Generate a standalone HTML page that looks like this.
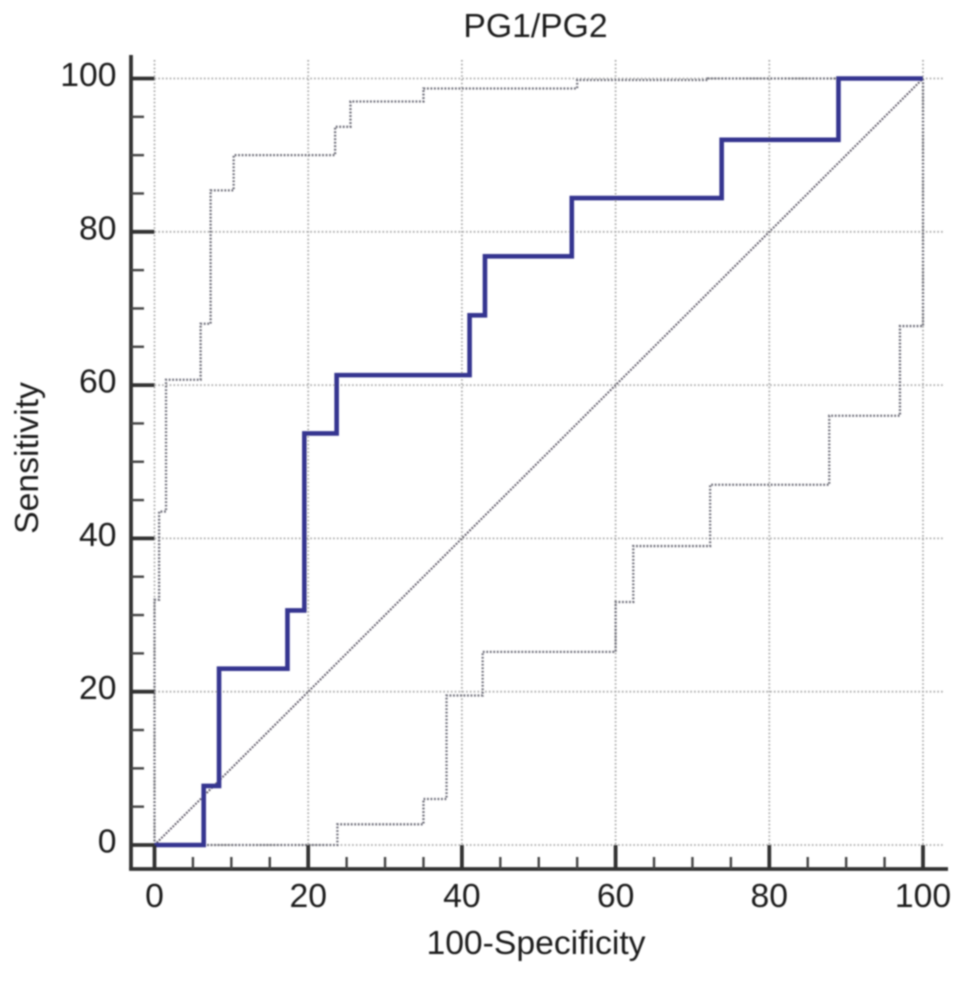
<!DOCTYPE html>
<html>
<head>
<meta charset="utf-8">
<title>PG1/PG2 ROC curve</title>
<style>
html,body{margin:0;padding:0;background:#fff;width:969px;height:986px;overflow:hidden}
svg{display:block}
text{font-family:"Liberation Sans",Arial,sans-serif;fill:#1f1f1f;font-size:33.7px}
</style>
</head>
<body>
<svg id="chart" width="969" height="986" viewBox="0 0 969 986" xmlns="http://www.w3.org/2000/svg">
  <defs><filter id="soft" x="-5%" y="-5%" width="110%" height="110%"><feGaussianBlur stdDeviation="0.7"/></filter></defs>
  <g id="plot" filter="url(#soft)">
    <g id="grid"></g>
    <g id="series"></g>
    <g id="axes"></g>
    <text x="535.5" y="37" text-anchor="middle">PG1/PG2</text>
    <text x="536" y="954" text-anchor="middle">100-Specificity</text>
    <text transform="translate(38,458) rotate(-90)" text-anchor="middle">Sensitivity</text>
  </g>
</svg>
<script>
const xTickLabels = [0, 20, 40, 60, 80, 100];
const yTickLabels = [0, 20, 40, 60, 80, 100];
const minorTicks = [5, 10, 15, 25, 30, 35, 45, 50, 55, 65, 70, 75, 85, 90, 95];

const diagonalX = [0, 100];
const diagonalY = [0, 100];

const rocX = [0, 6.4, 6.4, 8.4, 8.4, 17.3, 17.3, 19.5, 19.5, 23.7, 23.7, 41, 41, 43, 43, 54.3, 54.3, 73.8, 73.8, 89, 89, 100];
const rocY = [0, 0, 7.7, 7.7, 23, 23, 30.6, 30.6, 53.7, 53.7, 61.3, 61.3, 69.1, 69.1, 76.8, 76.8, 84.4, 84.4, 92, 92, 100, 100];

const upperX = [0, 0, 0.6, 0.6, 1.5, 1.5, 6, 6, 7.3, 7.3, 10.3, 10.3, 23.5, 23.5, 25.5, 25.5, 35, 35, 55, 55, 72, 72, 100];
const upperY = [0, 32, 32, 43.5, 43.5, 60.7, 60.7, 68, 68, 85.4, 85.4, 90, 90, 93.7, 93.7, 97, 97, 98.7, 98.7, 99.8, 99.8, 100, 100];

const lowerX = [0, 23.8, 23.8, 35, 35, 38, 38, 42.7, 42.7, 60, 60, 62.3, 62.3, 72.3, 72.3, 87.8, 87.8, 97, 97, 100, 100];
const lowerY = [0, 0, 2.7, 2.7, 6, 6, 19.5, 19.5, 25.2, 25.2, 31.7, 31.7, 39, 39, 47, 47, 56, 56, 67.7, 67.7, 100];

const NS = 'http://www.w3.org/2000/svg';
const sx = v => 154.5 + v * (923 - 154.5) / 100;
const sy = v => 845 - v * (845 - 78.5) / 100;
const gridG = document.getElementById('grid');
const seriesG = document.getElementById('series');
const axesG = document.getElementById('axes');

function line(parent, x1, y1, x2, y2, color, width, dash) {
  const el = document.createElementNS(NS, 'line');
  el.setAttribute('x1', x1);
  el.setAttribute('y1', y1);
  el.setAttribute('x2', x2);
  el.setAttribute('y2', y2);
  el.setAttribute('stroke', color);
  el.setAttribute('stroke-width', width);
  if (dash) el.setAttribute('stroke-dasharray', dash);
  parent.appendChild(el);
  return el;
}

function poly(xs, ys, color, width, dash) {
  const el = document.createElementNS(NS, 'polyline');
  el.setAttribute('points', xs.map((x, i) => sx(x) + ',' + sy(ys[i])).join(' '));
  el.setAttribute('fill', 'none');
  el.setAttribute('stroke', color);
  el.setAttribute('stroke-width', width);
  el.setAttribute('stroke-linejoin', 'miter');
  if (dash) el.setAttribute('stroke-dasharray', dash);
  seriesG.appendChild(el);
  return el;
}

function label(x, y, anchor, str) {
  const el = document.createElementNS(NS, 'text');
  el.setAttribute('x', x);
  el.setAttribute('y', y);
  el.setAttribute('text-anchor', anchor);
  el.textContent = str;
  axesG.appendChild(el);
  return el;
}

xTickLabels.forEach(v => {
  const g = line(gridG, sx(v), 60, sx(v), 845, '#aaaaaa', 1.8, '1.6 2.2');
  
  
});
yTickLabels.forEach(v => {
  const g = line(gridG, 154.5, sy(v), 943, sy(v), '#aaaaaa', 1.8, '1.6 2.2');
  
  
});

const diag = poly(diagonalX, diagonalY, '#5f5a68', 2, '1.8 1.4');



const upper = poly(upperX, upperY, '#6d6d78', 2.3, '1.8 1.7');



const lower = poly(lowerX, lowerY, '#6d6d78', 2.3, '1.8 1.7');



const roc = poly(rocX, rocY, '#363490', 4.6);



const yAxisLine = line(axesG, 131, 55, 131, 870.5, '#333333', 3.8);



const xAxisLine = line(axesG, 129.2, 869, 948, 869, '#333333', 3.8);



minorTicks.forEach(v => {
  const a = line(axesG, sx(v), 869, sx(v), 857, '#444444', 2.4);
  
  
  const b = line(axesG, 131, sy(v), 144, sy(v), '#444444', 2.4);
  
  
});

xTickLabels.forEach(v => {
  const t = line(axesG, sx(v), 869, sx(v), 845, '#333333', 3.8);
  
  
  const l = label(sx(v), 907, 'middle', String(v));
  
  
});

yTickLabels.forEach(v => {
  const t = line(axesG, 131, sy(v), 154.5, sy(v), '#333333', 3.8);
  
  
  const l = label(116.5, sy(v) + 7.5, 'end', String(v));
  
  
});
</script>
</body>
</html>
